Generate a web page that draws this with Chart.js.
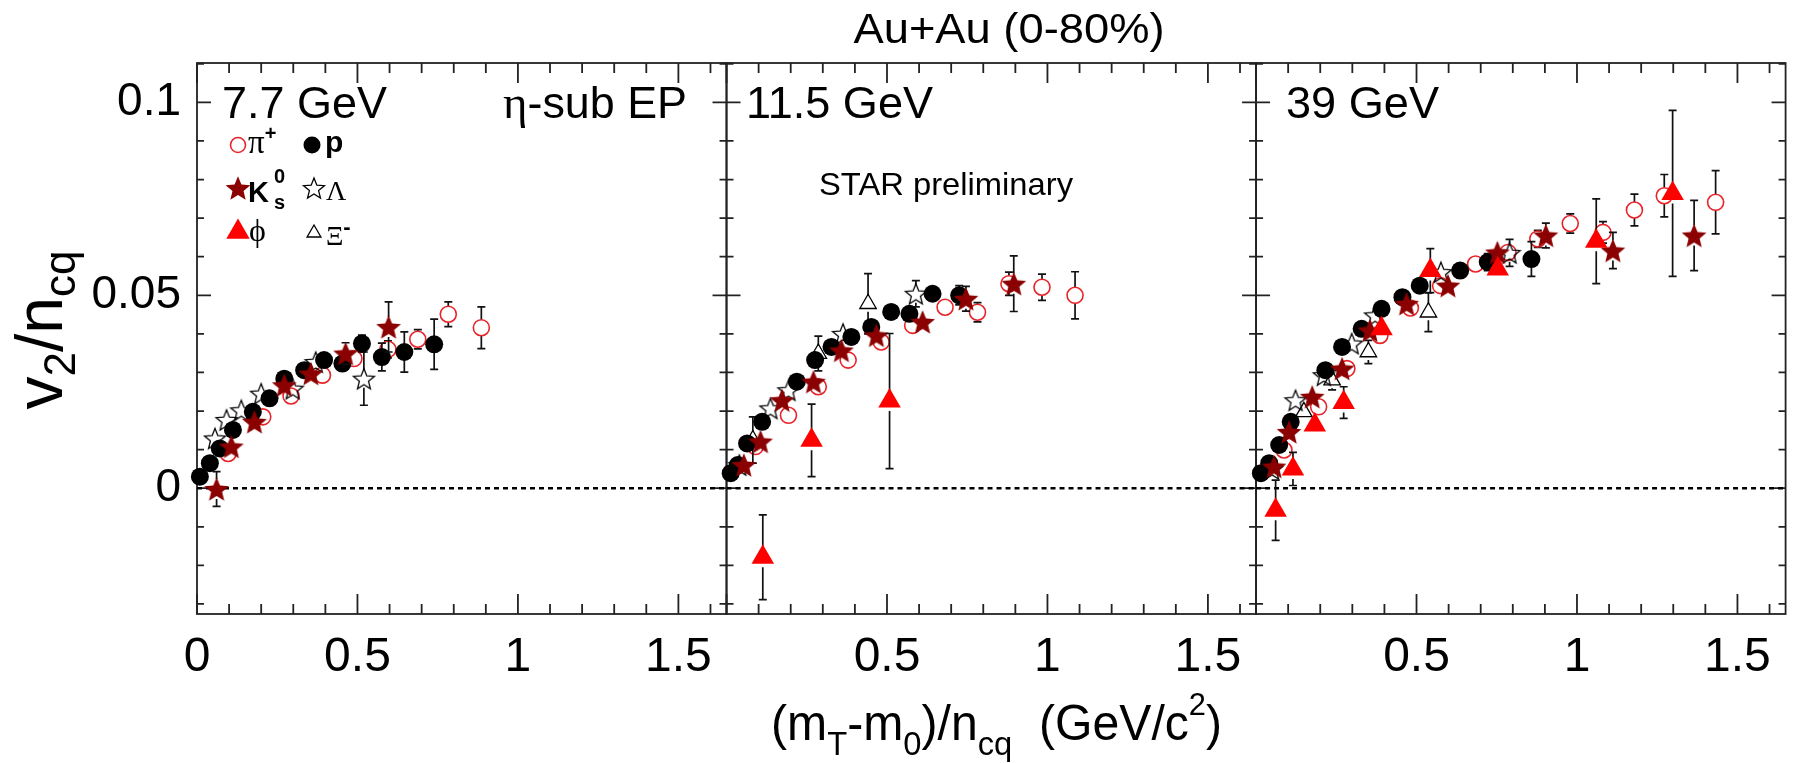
<!DOCTYPE html>
<html>
<head>
<meta charset="utf-8">
<script src="https://cdn.jsdelivr.net/npm/chart.js@4.4.0/dist/chart.umd.min.js"></script>
<style>
  html, body { margin: 0; padding: 0; background: #fff; overflow: hidden; }
  #wrap { position: relative; width: 1800px; height: 763px; }
</style>
</head>
<body>
<div id="wrap"><canvas id="chart" width="1800" height="763"></canvas></div>
<script>
// values: [ (mT-m0)/ncq , v2/ncq , error ]

// --- 7.7 GeV ---
const pi_7 = [[0.097,0.0090,0.001],[0.205,0.0185,0.001],[0.293,0.0239,0.0012],[0.391,0.0293,0.0015],
  [0.489,0.0336,0.0018],[0.595,0.0360,0.0022],[0.688,0.0386,0.0025],[0.783,0.0451,0.0032],[0.886,0.0416,0.0054]];
const p_7 = [[0.009,0.0030,0.0006],[0.040,0.0065,0.0007],[0.071,0.0103,0.0008],[0.112,0.0151,0.0009],
  [0.174,0.0198,0.001],[0.226,0.0233,0.001],[0.272,0.0284,0.0011],[0.334,0.0306,0.0012],[0.396,0.0332,0.0014],
  [0.453,0.0323,0.0016],[0.514,0.0375,0.0022],[0.576,0.0340,0.0036],[0.646,0.0353,0.0052],[0.739,0.0373,0.0065]];
const k0s_7 = [[0.061,-0.0002,0.0045],[0.107,0.0108,0.0012],[0.179,0.0172,0.0013],[0.272,0.0267,0.0014],
  [0.355,0.0297,0.0018],[0.463,0.0349,0.0028],[0.597,0.0418,0.0065]];
const lam_7 = [[0.056,0.0129,0.001],[0.092,0.0177,0.001],[0.138,0.0202,0.001],[0.200,0.0245,0.0012],
  [0.298,0.0258,0.0015],[0.370,0.0327,0.0018],[0.520,0.0284,0.0069]];
const phi_7 = [];
const xi_7 = [];

// --- 11.5 GeV ---
const pi_11 = [[0.090,0.0108,0.001],[0.193,0.0189,0.001],[0.286,0.0263,0.0012],[0.379,0.0332,0.0014],
  [0.482,0.0379,0.0016],[0.580,0.0422,0.0018],[0.681,0.0469,0.002],[0.782,0.0456,0.0025],[0.880,0.0530,0.003],
  [0.983,0.0521,0.0034],[1.086,0.0500,0.0061]];
const p_11 = [[0.013,0.0039,0.0006],[0.035,0.0060,0.0007],[0.064,0.0116,0.0008],[0.111,0.0172,0.0012],
  [0.219,0.0276,0.001],[0.276,0.0332,0.0012],[0.327,0.0366,0.0012],[0.389,0.0392,0.0013],[0.451,0.0418,0.0015],
  [0.513,0.0457,0.0016],[0.570,0.0452,0.0018],[0.642,0.0504,0.002],[0.725,0.0500,0.0025]];
const k0s_11 = [[0.054,0.0060,0.001],[0.106,0.0121,0.001],[0.173,0.0228,0.0012],[0.271,0.0276,0.0013],
  [0.358,0.0357,0.0015],[0.467,0.0396,0.0018],[0.611,0.0431,0.0022],[0.746,0.0491,0.0032],[0.895,0.0530,0.0072]];
const lam_11 = [[0.040,0.0060,0.001],[0.137,0.0207,0.0012],[0.193,0.0254,0.0013],[0.363,0.0400,0.0018],
  [0.590,0.0504,0.0034]];
const phi_11 = [[0.113,-0.0179,0.011],[0.265,0.0124,0.0094],[0.508,0.0226,0.0175]];
const xi_11 = [[0.082,0.0125,0.006],[0.286,0.0349,0.0045],[0.441,0.0478,0.0078]];

// --- 39 GeV ---
const pi_39 = [[0.087,0.0099,0.0008],[0.195,0.0211,0.001],[0.283,0.0310,0.001],[0.386,0.0396,0.0012],
  [0.481,0.0467,0.0013],[0.575,0.0525,0.0015],[0.684,0.0581,0.0017],[0.785,0.0611,0.002],[0.878,0.0646,0.0022],
  [0.979,0.0686,0.0025],[1.081,0.0663,0.0028],[1.179,0.0721,0.0041],[1.272,0.0758,0.0055],[1.432,0.0741,0.0082]];
const p_39 = [[0.015,0.0039,0.0006],[0.041,0.0065,0.0007],[0.072,0.0112,0.0008],[0.108,0.0172,0.0009],
  [0.216,0.0306,0.001],[0.268,0.0366,0.001],[0.329,0.0413,0.0011],[0.391,0.0465,0.0012],[0.456,0.0495,0.0013],
  [0.510,0.0525,0.0015],[0.636,0.0564,0.0018],[0.722,0.0586,0.0022],[0.858,0.0594,0.0045]];
const k0s_39 = [[0.056,0.0056,0.0008],[0.103,0.0146,0.001],[0.175,0.0237,0.001],[0.268,0.0310,0.0012],
  [0.355,0.0409,0.0013],[0.469,0.0478,0.0015],[0.598,0.0525,0.0018],[0.752,0.0611,0.0025],[0.903,0.0655,0.0032],
  [1.112,0.0616,0.0047],[1.365,0.0655,0.0091]];
const lam_39 = [[0.050,0.0050,0.001],[0.123,0.0228,0.0012],[0.211,0.0293,0.0013],[0.298,0.0375,0.0013],
  [0.371,0.0448,0.0014],[0.576,0.0560,0.002],[0.790,0.0610,0.0035]];
const phi_39 = [[0.061,-0.0057,0.0078],[0.115,0.0050,0.0043],[0.183,0.0164,0.002],[0.273,0.0222,0.0041],
  [0.391,0.0413,0.002],[0.543,0.0564,0.0057],[0.753,0.0568,0.0015],[1.060,0.0640,0.011],[1.298,0.0764,0.0215]];
const xi_39 = [[0.149,0.0198,0.002],[0.237,0.0280,0.0025],[0.350,0.0353,0.003],[0.537,0.0456,0.005]];

// axes
const energies = ['7.7 GeV', '11.5 GeV', '39 GeV'];
const xRange = [0, 1.65];
const yRange = [-0.0326, 0.1102];
const xTicksFirst = [0, 0.5, 1, 1.5];
const xTicksOther = [0.5, 1, 1.5];
const yTicks = [0, 0.05, 0.1];
const xMinorStep = 0.1;
const yMinorStep = 0.01;

const SANS = 'Liberation Sans';
const SERIF = 'Liberation Serif';
Chart.defaults.font.family = SANS;
Chart.defaults.color = '#000';

// ROOT-like star markers
function makeStar(rOut, rIn, fill, stroke, lw) {
  const size = Math.ceil(rOut * 2 + 4);
  const c = document.createElement('canvas');
  c.width = size; c.height = size;
  const g = c.getContext('2d');
  g.translate(size / 2, size / 2 + rOut * 0.1);
  g.beginPath();
  for (let i = 0; i < 10; i++) {
    const r = i % 2 ? rIn : rOut;
    const a = -Math.PI / 2 + i * Math.PI / 5;
    g.lineTo(r * Math.cos(a), r * Math.sin(a));
  }
  g.closePath();
  if (fill) { g.fillStyle = fill; g.fill(); }
  if (stroke) { g.strokeStyle = stroke; g.lineWidth = lw; g.stroke(); }
  return c;
}
const starFilled = makeStar(13, 5.8, '#8b0000', null, 0);
const starOpen = makeStar(11, 4.8, null, '#000', 1.3);

const RED = '#e8242a';
const styles = {
  phi: { pointStyle: 'triangle', radius: 13, bg: '#ff0000', border: '#ff0000', bw: 0, gap: 10, order: 1 },
  k0s: { pointStyle: starFilled, radius: 12, bg: '#8b0000', border: '#8b0000', bw: 0, gap: 10, order: 2 },
  p:   { pointStyle: 'circle', radius: 9, bg: '#000', border: '#000', bw: 0, gap: 8, order: 3 },
  xi:  { pointStyle: 'triangle', radius: 9.5, bg: 'rgba(0,0,0,0)', border: '#000', bw: 1.3, gap: 8, order: 4 },
  lam: { pointStyle: starOpen, radius: 10, bg: 'rgba(0,0,0,0)', border: '#000', bw: 0, gap: 9, order: 5 },
  pi:  { pointStyle: 'circle', radius: 8, bg: 'rgba(0,0,0,0)', border: RED, bw: 1.6, gap: 8, order: 6 }
};

function series(rows, xAxis, key) {
  const s = styles[key];
  return {
    label: key + ' ' + xAxis,
    data: rows.map(r => ({ x: r[0], y: r[1] })),
    errs: rows.map(r => r[2]),
    errGap: s.gap,
    xAxisID: xAxis, yAxisID: 'y',
    pointStyle: s.pointStyle, pointRadius: s.radius,
    backgroundColor: s.bg, borderColor: s.border, borderWidth: s.bw,
    showLine: false, clip: false, order: s.order
  };
}
function zeroLine(xAxis) {
  return {
    label: 'zero ' + xAxis,
    data: [{ x: xRange[0], y: 0 }, { x: xRange[1], y: 0 }],
    xAxisID: xAxis, yAxisID: 'y',
    showLine: true, pointRadius: 0, borderColor: '#000', borderWidth: 2.5,
    borderDash: [5, 4], order: 20
  };
}

const panels = [
  { id: 'x1', pi: pi_7, p: p_7, k0s: k0s_7, lam: lam_7, phi: phi_7, xi: xi_7 },
  { id: 'x2', pi: pi_11, p: p_11, k0s: k0s_11, lam: lam_11, phi: phi_11, xi: xi_11 },
  { id: 'x3', pi: pi_39, p: p_39, k0s: k0s_39, lam: lam_39, phi: phi_39, xi: xi_39 }
];
const datasets = [];
panels.forEach(pn => {
  datasets.push(zeroLine(pn.id));
  ['pi', 'lam', 'xi', 'p', 'k0s', 'phi'].forEach(k => {
    if (pn[k].length) datasets.push(series(pn[k], pn.id, k));
  });
});

function xScale(ticks) {
  return {
    type: 'linear', position: 'bottom', stack: 'panels', stackWeight: 1,
    min: xRange[0], max: xRange[1],
    grid: { display: false }, border: { display: false },
    ticks: { font: { size: 48 }, padding: 7, maxRotation: 0, autoSkip: false,
      callback: v => String(v) },
    afterBuildTicks: s => { s.ticks = ticks.map(v => ({ value: v })); },
    afterFit: s => { s.height = 149; }
  };
}

// text with sub/superscripts: parts = [text, size, dy, family, weight]
function drawRich(ctx, parts, x, y, opts) {
  opts = opts || {};
  ctx.save();
  let total = 0;
  const ws = parts.map(p => {
    ctx.font = (p[4] || 'normal') + ' ' + p[1] + 'px "' + (p[3] || SANS) + '"';
    const w = ctx.measureText(p[0]).width;
    total += w;
    return w;
  });
  const sx = opts.width ? opts.width / total : 1;
  const start = opts.align === 'center' ? x - total * sx / 2 : x;
  ctx.translate(start, y);
  ctx.scale(sx, 1);
  ctx.fillStyle = '#000';
  ctx.textBaseline = 'alphabetic';
  let cx = 0;
  parts.forEach((p, i) => {
    ctx.font = (p[4] || 'normal') + ' ' + p[1] + 'px "' + (p[3] || SANS) + '"';
    ctx.fillText(p[0], cx, p[2] || 0);
    cx += ws[i];
  });
  ctx.restore();
}

const frames = {
  id: 'frames',
  beforeDatasetsDraw(chart) {
    const ctx = chart.ctx, ys = chart.scales.y;
    ctx.save();
    ctx.strokeStyle = '#222';
    ctx.lineWidth = 1.8;
    ['x1', 'x2', 'x3'].forEach(id => {
      const xs = chart.scales[id];
      const L = xs.left, R = xs.right, T = ys.top, B = ys.bottom;
      ctx.strokeRect(L, T, R - L, B - T);
      ctx.beginPath();
      for (let i = 0; i * xMinorStep <= xRange[1]; i++) {
        const px = xs.getPixelForValue(i * xMinorStep);
        const len = i % 5 === 0 ? 20 : 10;
        ctx.moveTo(px, B); ctx.lineTo(px, B - len);
        ctx.moveTo(px, T); ctx.lineTo(px, T + len);
      }
      for (let i = -3; i * yMinorStep <= yRange[1]; i++) {
        const py = ys.getPixelForValue(i * yMinorStep);
        const len = i % 5 === 0 ? 14 : 7;
        ctx.moveTo(L, py); ctx.lineTo(L + len, py);
        ctx.moveTo(R, py); ctx.lineTo(R - len, py);
      }
      ctx.stroke();
    });
    ctx.restore();
  }
};

const errorBars = {
  id: 'errorBars',
  beforeDatasetDraw(chart, args) {
    const ds = chart.data.datasets[args.index];
    if (!ds.errs) return;
    const ys = chart.scales[args.meta.yAxisID];
    const ctx = chart.ctx;
    ctx.save();
    ctx.strokeStyle = '#111';
    ctx.lineWidth = 1.7;
    ctx.beginPath();
    args.meta.data.forEach((pt, i) => {
      const v = ds.data[i].y, e = ds.errs[i], g = ds.errGap;
      const top = ys.getPixelForValue(v + e), bot = ys.getPixelForValue(v - e);
      if (pt.y - top > g) {
        ctx.moveTo(pt.x, pt.y - g); ctx.lineTo(pt.x, top);
        ctx.moveTo(pt.x - 4, top); ctx.lineTo(pt.x + 4, top);
      }
      if (bot - pt.y > g) {
        ctx.moveTo(pt.x, pt.y + g); ctx.lineTo(pt.x, bot);
        ctx.moveTo(pt.x - 4, bot); ctx.lineTo(pt.x + 4, bot);
      }
    });
    ctx.stroke();
    ctx.restore();
  }
};

function legendMarker(ctx, key, x, y, r) {
  const s = styles[key];
  ctx.save();
  ctx.fillStyle = s.bg;
  ctx.strokeStyle = s.border;
  ctx.lineWidth = s.bw;
  Chart.helpers.drawPoint(ctx, { pointStyle: s.pointStyle, radius: r || s.radius, borderWidth: s.bw, rotation: 0 }, x, y);
  ctx.restore();
}

const labels = {
  id: 'labels',
  afterDraw(chart) {
    const ctx = chart.ctx;
    drawRich(ctx, [['Au+Au (0-80%)', 42]], 1009, 43, { align: 'center', width: 311 });
    drawRich(ctx, [[energies[0], 45]], 222, 118, { width: 165 });
    drawRich(ctx, [[energies[1], 45]], 746, 118, { width: 187 });
    drawRich(ctx, [[energies[2], 45]], 1286, 118, { width: 153 });
    drawRich(ctx, [['\u03b7', 47, 0, SERIF], ['-sub EP', 45]], 503, 118, { width: 184 });
    drawRich(ctx, [['STAR preliminary', 32]], 819, 195, { width: 254 });

    // legend
    legendMarker(ctx, 'pi', 238, 145, 7.5);
    drawRich(ctx, [['\u03c0', 33, 0, SERIF], ['+', 20, -13, SANS, 'bold']], 248, 153);
    legendMarker(ctx, 'p', 312, 145, 8.5);
    drawRich(ctx, [['p', 30, 0, SANS, 'bold']], 325, 152);
    legendMarker(ctx, 'k0s', 238, 188);
    drawRich(ctx, [['K', 29, 0, SANS, 'bold']], 248, 202);
    drawRich(ctx, [['0', 20, 0, SANS, 'bold']], 274, 183);
    drawRich(ctx, [['s', 20, 0, SANS, 'bold']], 274, 209);
    legendMarker(ctx, 'lam', 314, 188);
    drawRich(ctx, [['\u039b', 28, 0, SERIF]], 326, 200);
    legendMarker(ctx, 'phi', 238, 232, 13.5);
    drawRich(ctx, [['\u03d5', 32, 0, SERIF]], 249, 241);
    legendMarker(ctx, 'xi', 314, 233, 8);
    drawRich(ctx, [['\u039e', 27, 0, SERIF], ['-', 22, -11, SANS, 'bold']], 326, 245);

    // axis titles
    drawRich(ctx, [['(m', 50], ['T', 34, 15], ['-m', 50], ['0', 34, 15], [')/n', 50], ['cq', 34, 15],
      ['  (GeV/c', 50], ['2', 32, -25], [')', 50]], 771, 740, { width: 451 });
    ctx.save();
    ctx.translate(62, 330);
    ctx.rotate(-Math.PI / 2);
    drawRich(ctx, [['v', 66], ['2', 44, 13], ['/n', 66], ['cq', 44, 13]], 0, 0, { align: 'center' });
    ctx.restore();
  }
};

new Chart(document.getElementById('chart'), {
  type: 'scatter',
  data: { datasets },
  options: {
    responsive: false,
    animation: false,
    devicePixelRatio: 1,
    layout: { padding: { top: 63, right: 1, left: 0, bottom: 0 } },
    plugins: { legend: { display: false }, tooltip: { enabled: false } },
    scales: {
      y: {
        type: 'linear', position: 'left', min: yRange[0], max: yRange[1],
        grid: { display: false }, border: { display: false },
        ticks: { font: { size: 46 }, padding: 8, callback: v => String(v) },
        afterBuildTicks: s => { s.ticks = yTicks.map(v => ({ value: v })); },
        afterFit: s => { s.width = 197; }
      },
      x1: xScale(xTicksFirst),
      x2: xScale(xTicksOther),
      x3: xScale(xTicksOther)
    }
  },
  plugins: [frames, errorBars, labels]
});
</script>
</body>
</html>
